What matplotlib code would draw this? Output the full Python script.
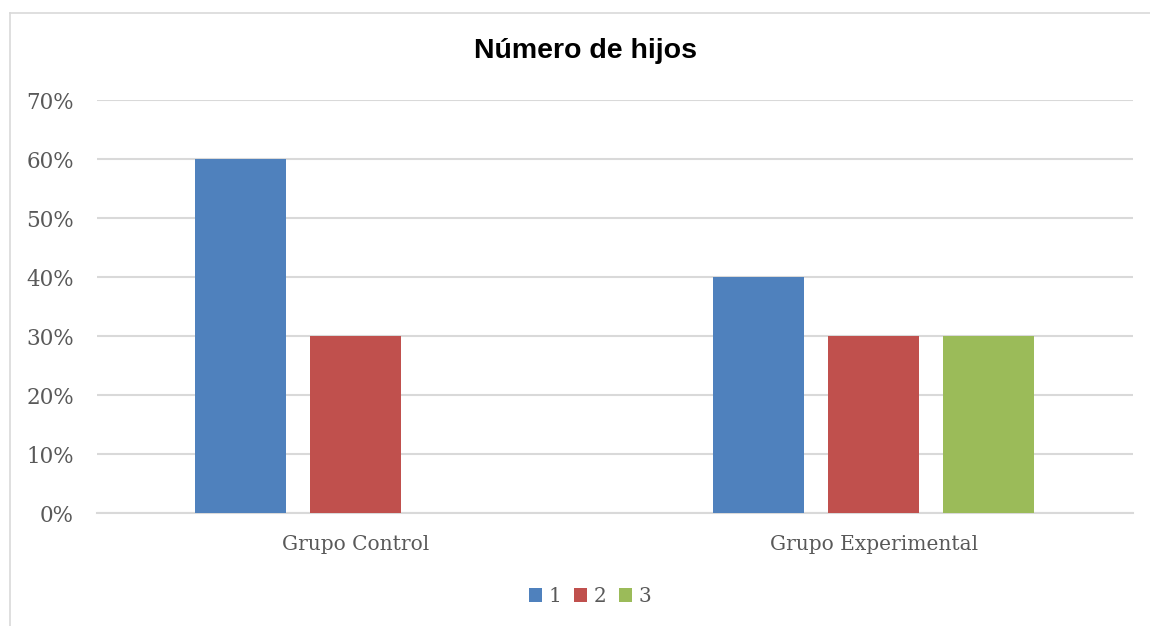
import matplotlib.pyplot as plt
from matplotlib.lines import Line2D
import numpy as np

groups = ["Grupo Control", "Grupo Experimental"]
series_names = ["1", "2", "3"]
values_1 = [0.60, 0.40]
values_2 = [0.30, 0.30]
values_3 = [0.0, 0.30]
colors = ["#4F81BD", "#C0504D", "#9BBB59"]

fig = plt.figure(figsize=(11.5, 6.26), dpi=100)
ax = fig.add_axes([0.0843, 0.1805, 0.9007, 0.6595])

x = np.arange(len(groups))
width = 0.176
step = 0.222
for i, (vals, name, c) in enumerate(zip([values_1, values_2, values_3], series_names, colors)):
    ax.bar(x + (i - 1) * step, vals, width, color=c, label=name, zorder=3)

ax.set_xlim(-0.5, 1.5)
ax.set_ylim(0, 0.7)
ax.set_yticks(np.arange(0, 0.71, 0.1))
ax.set_yticklabels([f"{int(round(v * 100))}%" for v in np.arange(0, 0.71, 0.1)])
ax.set_xticks(x)
ax.set_xticklabels(groups)
ax.grid(axis="y", color="#d9d9d9", linewidth=1.5, zorder=0)
for s in ["top", "right", "left"]:
    ax.spines[s].set_visible(False)
ax.spines["bottom"].set_color("#d9d9d9")
ax.spines["bottom"].set_linewidth(1.5)
ax.tick_params(length=0, labelcolor="#595959")
ax.tick_params(axis="y", pad=16.5, labelsize=15.5)
ax.tick_params(axis="x", pad=16, labelsize=14.5)
for lab in ax.get_xticklabels() + ax.get_yticklabels():
    lab.set_family("DejaVu Serif")

fig.text(0.509, 0.918, "Número de hijos", ha="center", va="center",
         fontsize=20.5, fontweight="bold", family="Liberation Sans")

leg = fig.legend(loc="center", bbox_to_anchor=(0.513, 0.047), ncol=3, frameon=False,
                 handlelength=0.65, handleheight=0.65, handletextpad=0.3, columnspacing=0.65,
                 prop={"family": "DejaVu Serif", "size": 14.5})
for t in leg.get_texts():
    t.set_color("#595959")

# outer chart frame
fig.add_artist(Line2D([10 / 1150, 10 / 1150], [0, 1 - 13 / 626], transform=fig.transFigure,
                      color="#d9d9d9", linewidth=1.2))
fig.add_artist(Line2D([10 / 1150, 1], [1 - 13 / 626, 1 - 13 / 626], transform=fig.transFigure,
                      color="#d9d9d9", linewidth=1.2))

fig.savefig("out.png", dpi=100)
